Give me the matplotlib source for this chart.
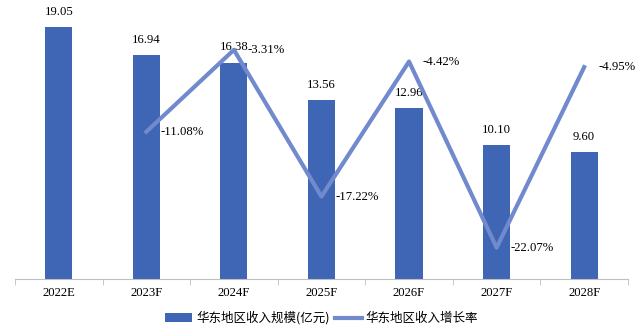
import matplotlib.pyplot as plt
import numpy as np

years = ["2022E", "2023F", "2024F", "2025F", "2026F", "2027F", "2028F"]
revenue = [19.05, 16.94, 16.38, 13.56, 12.96, 10.10, 9.60]
growth_years = ["2023F", "2024F", "2025F", "2026F", "2027F", "2028F"]
growth = [-11.08, -3.31, -17.22, -4.42, -22.07, -4.95]

serif = ["Liberation Serif", "DejaVu Serif"]
cjk = ["Noto Sans CJK SC", "DejaVu Sans"]
bar_color = "#3f65b5"
line_color = "#7189cd"

fig = plt.figure(figsize=(6.43, 3.32), dpi=100)
ax = fig.add_axes([0.0233, 0.161, 0.9533, 0.794])
x = np.arange(len(years))
bars = ax.bar(x, revenue, width=0.31, color=bar_color, label="华东地区收入规模(亿元)")
for xi, v in zip(x, revenue):
    ax.text(xi, v + 0.7, f"{v:.2f}", ha="center", va="bottom",
            fontsize=9.2, family=serif)
ax.set_xlim(-0.5, len(years) - 0.5)
ax.set_ylim(0, 20)
ax.set_yticks([])
for s in ["left", "right", "top"]:
    ax.spines[s].set_visible(False)
ax.spines["bottom"].set_color("#bfbfbf")
ax.set_xticks(x)
ax.set_xticklabels(years, family=serif, fontsize=9.2)
ax.tick_params(axis="x", which="major", length=0, pad=6)
ax.set_xticks(np.arange(-0.5, len(years)), minor=True)
ax.tick_params(axis="x", which="minor", length=4, color="#bfbfbf")

# growth rate on its own scale
ax2 = ax.twinx()
gx = [years.index(y) for y in growth_years]
line, = ax2.plot(gx, growth, color=line_color, lw=3, label="华东地区收入增长率")
for xi, v in zip(gx, growth):
    ax2.annotate(f"{v:.2f}%", (xi, v), xytext=(10, 0), textcoords="offset points",
                 ha="left", va="center", fontsize=9.2, family=serif)
ax2.set_ylim(-25, 0)
ax2.set_yticks([])
for s in ["left", "right", "top", "bottom"]:
    ax2.spines[s].set_visible(False)

fig.legend([bars, line], ["华东地区收入规模(亿元)", "华东地区收入增长率"],
           loc="center", bbox_to_anchor=(0.5, 0.042), ncol=2, frameon=False,
           prop={"family": cjk, "size": 9}, handlelength=2.2,
           handletextpad=0.3, columnspacing=0.4)

fig.savefig("out.png", dpi=100)
